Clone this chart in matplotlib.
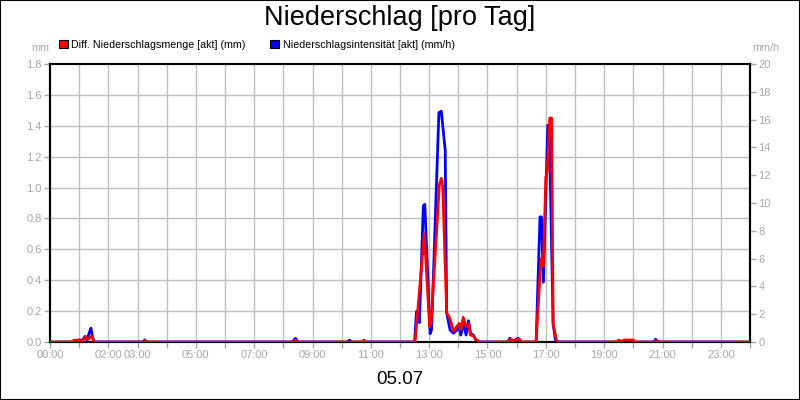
import matplotlib
matplotlib.use("Agg")
import matplotlib.pyplot as plt
from matplotlib.patches import Patch, Rectangle

plt.rcParams['font.family'] = ['Liberation Sans', 'DejaVu Sans']

# ---- data ----
red_times = ["00:00", "00:46", "00:50", "01:02", "01:06", "01:14", "01:18", "01:26", "01:31",
             "03:12", "03:16", "03:20",
             "08:21", "08:26", "08:30",
             "10:42", "10:46", "10:50",
             "12:31", "12:50", "13:01", "13:04", "13:21", "13:25", "13:28", "13:36", "13:43",
             "13:50", "13:57", "14:02", "14:05", "14:10", "14:16", "14:21", "14:25", "14:31",
             "14:36", "14:45",
             "15:42", "15:48", "15:53", "16:05", "16:10",
             "16:40", "16:50", "16:55", "17:00", "17:03", "17:08", "17:12", "17:15", "17:22", "17:25",
             "19:26", "19:30", "19:34", "19:42", "19:52", "20:00", "20:04",
             "20:43", "20:48", "20:52", "24:00"]
red_mm = [0, 0, 0.012, 0.012, 0.0, 0.035, 0.015, 0.04, 0,
          0, 0.008, 0,
          0, 0.013, 0,
          0, 0.013, 0,
          0, 0.70, 0.10, 0.12, 1.02, 1.06, 1.00, 0.19, 0.15,
          0.07, 0.10, 0.12, 0.08, 0.16, 0.10, 0.12, 0.045, 0.04,
          0.017, 0,
          0, 0.02, 0.005, 0.02, 0,
          0, 0.54, 0.49, 1.07, 1.10, 1.45, 1.45, 0.12, 0.01, 0,
          0, 0.013, 0.005, 0.013, 0.013, 0.013, 0,
          0, 0.01, 0, 0]

blue_times = ["00:00", "00:45", "00:49", "00:56", "01:02", "01:06", "01:12", "01:16", "01:24", "01:28", "01:31",
              "03:11", "03:15", "03:19",
              "08:19", "08:25", "08:30",
              "10:12", "10:16", "10:20",
              "12:30", "12:34", "12:37", "12:40", "12:48", "12:51", "13:02", "13:05", "13:20", "13:25",
              "13:33", "13:36", "13:43", "13:50", "13:57", "14:02", "14:05", "14:11", "14:16", "14:21",
              "14:25", "14:31", "14:36", "14:41",
              "15:42", "15:46", "15:52", "16:03", "16:08",
              "16:40", "16:48", "16:51", "16:55", "17:04", "17:07", "17:15", "17:20", "17:23",
              "19:40", "19:45", "19:55", "20:00",
              "20:42", "20:46", "20:50", "24:00"]
blue_mmh = [0, 0, 0.1, 0.1, 0.15, 0.1, 0.4, 0.15, 1.0, 0.3, 0,
            0, 0.15, 0,
            0, 0.27, 0,
            0, 0.14, 0,
            0, 2.2, 2.2, 1.4, 9.8, 9.9, 0.6, 0.9, 16.5, 16.6,
            13.8, 2.1, 0.86, 0.63, 0.86, 1.1, 0.5, 1.34, 0.5, 1.53,
            0.62, 0.5, 0.14, 0,
            0, 0.27, 0.05, 0.27, 0,
            0, 9.0, 9.0, 4.3, 15.6, 15.6, 1.3, 0.1, 0,
            0, 0.12, 0.12, 0,
            0, 0.2, 0, 0]

x_tick_hours = list(range(0, 25))
x_label_hours = [0, 2, 3, 5, 7, 9, 11, 13, 15, 17, 19, 21, 23]
left_ticks = [0.0, 0.2, 0.4, 0.6, 0.8, 1.0, 1.2, 1.4, 1.6, 1.8]
right_ticks = [0, 2, 4, 6, 8, 10, 12, 14, 16, 18, 20]

title = "Niederschlag [pro Tag]"
red_label = "Diff. Niederschlagsmenge [akt] (mm)"
blue_label = "Niederschlagsintensität [akt] (mm/h)"
date_label = "05.07"


def to_hours(s):
    h, m = s.split(":")
    return int(h) + int(m) / 60.0


rx = [to_hours(t) for t in red_times]
bx = [to_hours(t) for t in blue_times]

GRAY = "#a8a8a8"
GRID = "#c0c0c0"

fig = plt.figure(figsize=(8, 4), dpi=100)
fig.patch.set_facecolor("white")
ax = fig.add_axes([50 / 800, 58 / 400, 700 / 800, 278 / 400])
ax2 = ax.twinx()

# draw order: blue axis below, red axis on top
ax2.set_zorder(1)
ax.set_zorder(2)
ax.patch.set_visible(False)
ax2.patch.set_visible(True)
ax2.patch.set_facecolor("white")

ax.set_xlim(0, 24)
ax.set_ylim(0, 1.8)
ax2.set_ylim(0, 20)

# grid drawn in lower axis so lines sit on top of it
for v in left_ticks[1:-1]:
    ax2.axhline(v * 20 / 1.8, color=GRID, lw=1, zorder=0)
for h in x_tick_hours[1:-1]:
    ax2.axvline(h, color=GRID, lw=1, zorder=0)

ax2.plot(bx, blue_mmh, color="#0000ff", lw=2, zorder=3)
ax.plot(rx, red_mm, color="#ff0000", lw=2, zorder=3)

ax.set_xticks(x_tick_hours)
ax.set_xticklabels([f"{h:02d}:00" if h in x_label_hours else "" for h in x_tick_hours])
ax.set_yticks(left_ticks)
ax.set_yticklabels([f"{v:.1f}" for v in left_ticks])
ax2.set_yticks(right_ticks)
ax2.set_yticklabels([str(v) for v in right_ticks])

for a in (ax, ax2):
    a.tick_params(axis="both", colors=GRAY, labelcolor=GRAY, labelsize=8, length=4, width=1, direction="out")
    for sp in a.spines.values():
        sp.set_color("black")
        sp.set_linewidth(1.5)
ax.tick_params(axis="x", pad=2)
ax.tick_params(axis="y", pad=2)
ax2.tick_params(axis="y", pad=2)

fig.text(400 / 800, 1 - 18 / 400, title, ha="center", va="center", fontsize=19.5, color="black")
fig.text(400 / 800, 1 - 380 / 400, date_label, ha="center", va="center", fontsize=13.5, color="black")
fig.text(40 / 800, 1 - 48 / 400, "mm", ha="center", va="center", fontsize=7.8, color=GRAY)
fig.text(766 / 800, 1 - 48 / 400, "mm/h", ha="center", va="center", fontsize=7.8, color=GRAY)

handles = [Patch(facecolor="#ff0000", edgecolor="black", lw=0.8),
           Patch(facecolor="#0000ff", edgecolor="black", lw=0.8)]
fig.legend(handles, [red_label, blue_label], loc="center left",
           bbox_to_anchor=(59 / 800, 1 - 45 / 400), ncol=2, frameon=False,
           fontsize=7.7, handlelength=0.8, handleheight=0.8, handletextpad=0.35,
           columnspacing=2.3, borderpad=0, borderaxespad=0)

fig.add_artist(Rectangle((0, 0), 1, 1, transform=fig.transFigure, fill=False,
                         edgecolor="black", lw=1.5))

fig.savefig("out.png", dpi=100)
